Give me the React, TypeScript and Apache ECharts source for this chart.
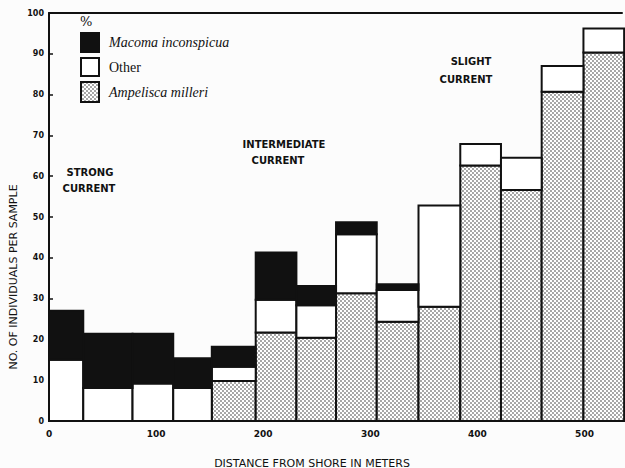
import React, { useEffect, useRef } from 'react';
import * as echarts from 'echarts';

// bin edges along the shore transect (meters)
const binEdges = [0, 32, 78, 116, 152, 193, 231, 268, 306, 345, 384, 422, 460, 499, 537];
// individuals per sample, per bin (stack order: Ampelisca bottom, Other, Macoma top)
const ampelisca = [0, 0, 0, 0, 9.8, 21.7, 20.4, 31.3, 24.3, 28.0, 62.6, 56.6, 80.7, 90.3];
const other = [15.0, 8.1, 9.2, 8.1, 3.5, 8.0, 8.0, 14.5, 7.8, 24.8, 5.3, 7.9, 6.3, 5.9];
const macoma = [12.0, 13.3, 12.2, 7.3, 4.9, 11.6, 4.7, 2.9, 1.4, 0, 0, 0, 0, 0];
const xTickLabels = [0, 100, 200, 300, 400, 500];
const seriesNames = ['Macoma inconspicua', 'Other', 'Ampelisca milleri'];
const currentNotes = [
  { lines: ['STRONG', 'CURRENT'], at: [[90, 172], [89, 188]] },
  { lines: ['INTERMEDIATE', 'CURRENT'], at: [[284, 144], [278, 160]] },
  { lines: ['SLIGHT', 'CURRENT'], at: [[471, 61], [466, 79]] },
];
const xTitle = 'DISTANCE FROM SHORE IN METERS';
const yTitle = 'NO. OF INDIVIDUALS PER SAMPLE';

const INK = '#111';

function makeDots() {
  const c = document.createElement('canvas');
  c.width = 4;
  c.height = 4;
  const ctx = c.getContext('2d')!;
  ctx.fillStyle = '#fff';
  ctx.fillRect(0, 0, 4, 4);
  ctx.fillStyle = '#222';
  ctx.beginPath();
  ctx.arc(1, 1, 0.72, 0, Math.PI * 2);
  ctx.fill();
  ctx.beginPath();
  ctx.arc(3, 3, 0.72, 0, Math.PI * 2);
  ctx.fill();
  return { image: c.toDataURL(), repeat: 'repeat', imageWidth: 4, imageHeight: 4 } as any;
}

function buildStack() {
  const layers = [ampelisca, other, macoma];
  const out: number[][][] = [[], [], []];
  for (let i = 0; i < ampelisca.length; i++) {
    let base = 0;
    layers.forEach((arr, k) => {
      out[k].push([binEdges[i], binEdges[i + 1], base, base + arr[i]]);
      base += arr[i];
    });
  }
  return out; // [ampelisca, other, macoma]
}

export default function App() {
  const ref = useRef<HTMLDivElement>(null);
  useEffect(() => {
    if (!ref.current) return;
    const chart = echarts.init(ref.current, null, { renderer: 'svg' });
    const dots = makeDots();
    const [ampData, otherData, macData] = buildStack();
    const fills: any[] = [dots, '#fff', INK];

    const mkSeries = (name: string, data: number[][], fill: any) => ({
      type: 'custom',
      name,
      data,
      encode: { x: [0, 1], y: [2, 3] },
      renderItem: (params: any, api: any) => {
        const x0 = api.value(0), x1 = api.value(1), y0 = api.value(2), y1 = api.value(3);
        if (y1 - y0 <= 0) return null;
        const p0 = api.coord([x0, y1]);
        const p1 = api.coord([x1, y0]);
        return {
          type: 'rect',
          shape: { x: p0[0], y: p0[1], width: p1[0] - p0[0], height: p1[1] - p0[1] },
          style: { fill, stroke: INK, lineWidth: 2 },
        };
      },
    });

    const textBase = { fill: INK, fontFamily: 'DejaVu Sans', fontWeight: 'bold' };
    const graphics: any[] = [];
    currentNotes.forEach((n) =>
      n.lines.forEach((t, i) =>
        graphics.push({
          type: 'text',
          x: n.at[i][0],
          y: n.at[i][1],
          style: { ...textBase, text: t, fontSize: 10, align: 'center', verticalAlign: 'middle', textAlign: 'center', textVerticalAlign: 'middle' },
        })
      )
    );
    graphics.push({
      type: 'text', x: 312, y: 463,
      style: { ...textBase, fontWeight: 'normal', text: xTitle, fontSize: 11, align: 'center', verticalAlign: 'middle', textAlign: 'center', textVerticalAlign: 'middle' },
    });
    graphics.push({
      type: 'text', x: 13, y: 277, rotation: Math.PI / 2,
      style: { ...textBase, fontWeight: 'normal', text: yTitle, fontSize: 11, align: 'center', verticalAlign: 'middle', textAlign: 'center', textVerticalAlign: 'middle' },
    });
    // legend
    graphics.push({ type: 'text', x: 80, y: 21, style: { text: '%', fill: INK, fontFamily: 'DejaVu Serif', fontSize: 13, verticalAlign: 'middle', textVerticalAlign: 'middle' } });
    const legendRows = [
      { name: seriesNames[0], fill: fills[2], y: 33, h: 19 },
      { name: seriesNames[1], fill: fills[1], y: 58, h: 18 },
      { name: seriesNames[2], fill: fills[0], y: 82, h: 20 },
    ];
    legendRows.forEach((r, i) => {
      graphics.push({ type: 'rect', shape: { x: 81, y: r.y, width: 18, height: r.h }, style: { fill: r.fill, stroke: INK, lineWidth: 2 } });
      graphics.push({
        type: 'text', x: 109, y: r.y + r.h / 2,
        style: { text: r.name, fill: INK, fontFamily: 'Liberation Serif', fontStyle: i === 1 ? 'normal' : 'italic', fontSize: 14, verticalAlign: 'middle', textVerticalAlign: 'middle' },
      });
    });

    chart.setOption({
      animation: false,
      backgroundColor: '#fcfcfc',
      grid: { left: 49, right: 0, top: 13, bottom: 47, containLabel: false },
      xAxis: [
        {
          type: 'value', min: 0, max: 535, interval: 100,
          axisLine: { show: true, lineStyle: { color: INK, width: 2 } },
          axisTick: { show: false },
          splitLine: { show: false },
          axisLabel: {
            margin: 8, color: INK, fontSize: 9, fontWeight: 'bold', fontFamily: 'DejaVu Sans',
            formatter: (v: number) => (xTickLabels.includes(v) ? String(v) : ''),
          },
        },
        {
          type: 'value', position: 'top', min: 0, max: 535,
          axisLine: { show: true, lineStyle: { color: INK, width: 2 } },
          axisTick: { show: false }, axisLabel: { show: false }, splitLine: { show: false },
        },
      ],
      yAxis: {
        type: 'value', min: 0, max: 100, interval: 10,
        axisLine: { show: true, lineStyle: { color: INK, width: 2 } },
        axisTick: { show: true, inside: true, length: 4, lineStyle: { color: INK, width: 1.5 } },
        splitLine: { show: false },
        axisLabel: { margin: 5, color: INK, fontSize: 8, fontWeight: 'bold', fontFamily: 'DejaVu Sans' },
      },
      series: [
        mkSeries(seriesNames[2], ampData, fills[0]),
        mkSeries(seriesNames[1], otherData, fills[1]),
        mkSeries(seriesNames[0], macData, fills[2]),
      ],
      graphic: graphics,
    });
    return () => chart.dispose();
  }, []);
  return <div ref={ref} style={{ position: 'fixed', left: 0, top: 0, width: 625, height: 468 }} />;
}
